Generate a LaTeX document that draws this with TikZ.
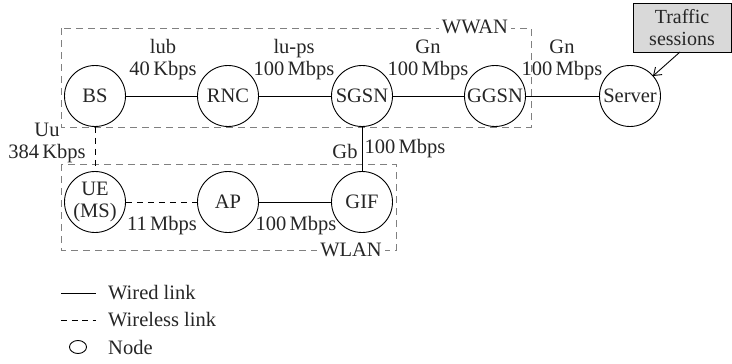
\documentclass[tikz,border=0pt]{standalone}
\usepackage{fontspec}
\setmainfont{Liberation Serif}
\usetikzlibrary{arrows.meta,shapes.geometric}
\begin{document}
\begin{tikzpicture}[x=1pt,y=-1pt,
  every node/.style={font=\fontsize{20.5}{22}\selectfont, text=black!85},
  netnode/.style={draw, circle, minimum size=61pt, inner sep=0pt, line width=0.9pt},
  wired/.style={line width=0.9pt},
  wireless/.style={line width=0.9pt, dash pattern=on 6pt off 5pt},
  region/.style={draw=black!50, line width=0.9pt, dash pattern=on 7pt off 5pt},
  lbl/.style={inner sep=0pt, align=center},
  tag/.style={draw, fill=black!15, line width=0.9pt, align=center, inner sep=0pt, minimum width=98pt, minimum height=49pt, font=\fontsize{20}{22}\selectfont}
]
\useasboundingbox (0,0) rectangle (732,364);
% regions
\draw[region] (61,28) rectangle (531,127);
\draw[region] (61,164) rectangle (396,250);
\node[lbl, fill=white, inner xsep=3pt] (wwan) at (475,27) {WWAN};
\node[lbl, fill=white, inner xsep=3pt] (wlan) at (351,250) {WLAN};
% nodes
\node[netnode] (bs) at (95,96) {BS};
\node[netnode] (rnc) at (228,96) {RNC};
\node[netnode] (sgsn) at (362,96) {SGSN};
\node[netnode] (ggsn) at (495,96) {GGSN};
\node[netnode] (srv) at (630,96) {Server};
\node[netnode] (ue) at (95,202) {};
\node[lbl] (uetxt) at (95,202) {UE\\(MS)};
\node[netnode] (ap) at (228,202) {AP};
\node[netnode] (gif) at (362,202) {GIF};
% links
\draw[wired] (bs) -- (rnc);
\draw[wired] (rnc) -- (sgsn);
\draw[wired] (sgsn) -- (ggsn);
\draw[wired] (ggsn) -- (srv);
\draw[wired] (sgsn) -- (gif);
\draw[wired] (ap) -- (gif);
\draw[wireless] (bs) -- (ue);
\draw[wireless] (ue) -- (ap);
% link labels
\node[lbl] (l1) at (163,60) {lub\\40\,Kbps};
\node[lbl] (l2) at (294,60) {lu-ps\\100\,Mbps};
\node[lbl] (l3) at (428,60) {Gn\\100\,Mbps};
\node[lbl] (l4) at (562,60) {Gn\\100\,Mbps};
\node[lbl] (l5) at (47,143) {Uu\\384\,Kbps};
\node[lbl] (l6) at (345,151) {Gb};
\node[lbl] (l7) at (405,149) {100\,Mbps};
\node[lbl] (l8) at (162,226) {11\,Mbps};
\node[lbl] (l9) at (296,226) {100\,Mbps};
% traffic sessions
\node[tag] (ts) at (682,27.5) {Traffic\\sessions};
\draw[line width=0.9pt, -{Straight Barb[length=7pt,width=10pt]}] (680,52) -- (653,76);
% legend
\coordinate (w1) at (61,293);
\coordinate (w2) at (96,293);
\draw[wired] (w1) -- (w2);
\node[lbl, anchor=west] (lw) at (108,293) {Wired link};
\coordinate (d1) at (61,320);
\coordinate (d2) at (96,320);
\draw[wireless, dash pattern=on 6pt off 4.5pt] (d1) -- (d2);
\node[lbl, anchor=west] (ld) at (108,320) {Wireless link};
\node[draw, ellipse, line width=0.9pt, minimum width=17pt, minimum height=13pt, inner sep=0pt] (ln) at (78,347) {};
\node[lbl, anchor=west] (lnt) at (108,347) {Node};
\end{tikzpicture}
\end{document}
